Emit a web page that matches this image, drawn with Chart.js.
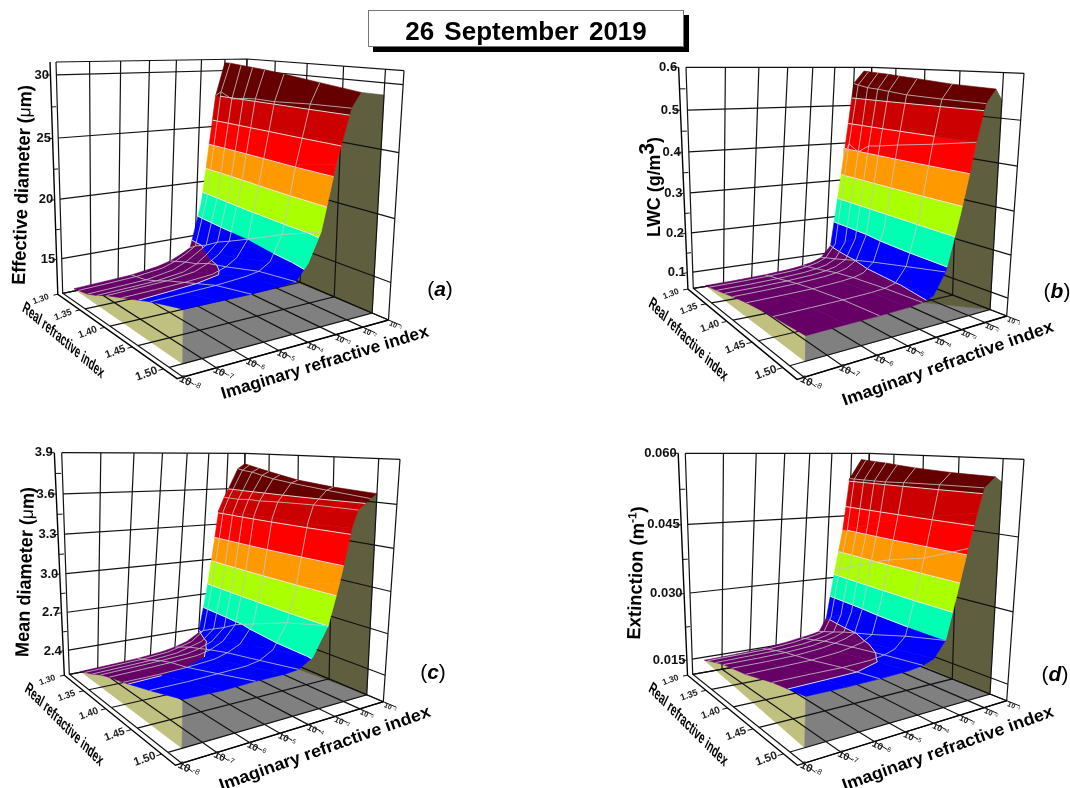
<!DOCTYPE html>
<html>
<head>
<meta charset="utf-8">
<title>26 September 2019</title>
<script src="https://cdn.jsdelivr.net/npm/chart.js@4"></script>
<style>
body { margin: 0; background: #fff; }
canvas { position: absolute; left: 0; top: 0; }
#dateBox {
  position: absolute; left: 368px; top: 10px; width: 314px; height: 35px; z-index: 2;
  background: #fff; border: 1px solid #777; box-shadow: 5px 5px 0 #000;
  font: bold 26px "Liberation Sans", Arial, sans-serif; word-spacing: 3px;
  text-align: center; line-height: 41px; color: #000;
}
</style>
</head>
<body>
<div id="dateBox">26 September 2019</div>
<canvas id="myChart" width="1070" height="788"></canvas>
<script>
// real refractive index of each mesh column, same for all panels
var realIdx = [1.30, 1.31, 1.33, 1.35, 1.37, 1.40, 1.45, 1.50];
var realTicks = [1.30, 1.35, 1.40, 1.45, 1.50];
var realTickLabels = ['1.30', '1.35', '1.40', '1.45', '1.50'];
var imagTicks = [-8, -7, -6, -5, -4, -3, -2, -1];

// log10 of imaginary index of each mesh row
var imagA = [-7.6, -6.5, -5.5, -4.5, -4, -3.6, -3.2, -2.8, -2.35, -2];
var imagB = [-7.6, -6.5, -5.5, -4.5, -4, -3.6, -3.2, -2.8, -2.35, -2, -1.45];
var imagC = [-7.6, -6.5, -5.5, -4.5, -4, -3.5, -3, -2.7, -2.35, -2.1, -1.4, -1];
var imagD = [-7.6, -6.5, -5.5, -4.5, -4, -3.6, -3.2, -2.9, -2.6, -2.3, -2.05, -1.45];

// surface heights, one row per imag value, one column per realIdx
var diamEff = [
  [12.2, 12.3, 12.5, 12.9, 13.4, 14.0, 15.0, 15.8],
  [12.3, 12.4, 12.6, 13.0, 13.5, 14.1, 15.1, 15.8],
  [12.4, 12.5, 12.7, 13.1, 13.6, 14.2, 15.2, 15.8],
  [12.7, 12.8, 13.1, 13.4, 13.9, 14.4, 15.4, 15.9],
  [13.0, 13.2, 13.6, 13.9, 14.4, 14.8, 15.6, 16.0],
  [13.4, 13.7, 14.2, 14.6, 15.0, 15.4, 16.2, 17.2],
  [13.9, 14.3, 14.8, 15.5, 16.0, 16.8, 18.2, 19.4],
  [18.0, 18.5, 19.2, 20.0, 20.8, 22.0, 23.6, 24.3],
  [27.8, 28.2, 27.7, 27.9, 28.0, 28.0, 28.2, 28.3],
  [30.7, 30.7, 30.6, 30.5, 30.4, 30.2, 29.8, 29.4]
];
var lwc = [
  [.060, .063, .069, .076, .083, .092, .103, .110],
  [.062, .065, .071, .078, .085, .094, .105, .112],
  [.065, .068, .074, .081, .088, .096, .107, .113],
  [.070, .073, .079, .086, .093, .101, .110, .115],
  [.075, .078, .084, .091, .098, .105, .113, .118],
  [.080, .084, .090, .098, .105, .112, .120, .127],
  [.090, .095, .103, .112, .122, .135, .155, .175],
  [.120, .130, .145, .165, .185, .215, .260, .300],
  [.370, .400, .385, .405, .410, .420, .435, .453],
  [.558, .555, .550, .548, .545, .540, .537, .535],
  [.590, .589, .587, .585, .582, .578, .570, .565]
];
var diamMean = [
  [2.21, 2.225, 2.26, 2.30, 2.33, 2.365, 2.435, 2.51],
  [2.22, 2.235, 2.27, 2.31, 2.34, 2.37, 2.44, 2.51],
  [2.23, 2.245, 2.28, 2.32, 2.35, 2.38, 2.45, 2.52],
  [2.25, 2.265, 2.30, 2.335, 2.365, 2.40, 2.46, 2.52],
  [2.27, 2.29, 2.33, 2.36, 2.39, 2.43, 2.48, 2.53],
  [2.30, 2.32, 2.36, 2.40, 2.44, 2.48, 2.54, 2.59],
  [2.36, 2.40, 2.45, 2.50, 2.56, 2.62, 2.72, 2.79],
  [2.79, 2.81, 2.84, 2.87, 2.90, 2.94, 3.00, 3.07],
  [3.42, 3.42, 3.42, 3.43, 3.43, 3.43, 3.43, 3.44],
  [3.53, 3.53, 3.53, 3.54, 3.54, 3.55, 3.56, 3.56],
  [3.77, 3.76, 3.75, 3.73, 3.71, 3.69, 3.66, 3.63],
  [3.81, 3.80, 3.78, 3.76, 3.74, 3.71, 3.68, 3.66]
];
var extinction = [
  [.0143, .0148, .0156, .0164, .0169, .0176, .0195, .0207],
  [.0145, .0150, .0158, .0165, .0170, .0178, .0196, .0207],
  [.0148, .0152, .0160, .0167, .0172, .0180, .0196, .0208],
  [.0155, .0158, .0165, .0172, .0178, .0186, .0199, .0210],
  [.0160, .0163, .0170, .0178, .0184, .0192, .0204, .0214],
  [.0163, .0167, .0175, .0183, .0190, .0198, .0212, .0222],
  [.0168, .0173, .0182, .0192, .0200, .0212, .0235, .0254],
  [.0201, .0208, .0222, .0238, .0255, .0280, .0315, .0345],
  [.0320, .0325, .0335, .0348, .0360, .0375, .0395, .0430],
  [.0418, .0422, .0430, .0440, .0450, .0462, .0480, .0497],
  [.0540, .0540, .0540, .0540, .0540, .0542, .0544, .0545],
  [.0585, .0584, .0582, .0580, .0577, .0573, .0568, .0565]
];

// contour levels between the colour bands
var levelsA = [14.6, 16.8, 19, 21.2, 23.4, 25.6, 27.8];
var levelsB = [.121, .186, .251, .316, .386, .453, .52];
var levelsC = [2.38, 2.584, 2.788, 2.99, 3.19, 3.40, 3.60];
var levelsD = [.0201, .0254, .0308, .0364, .0418, .0473, .0534];

var bandColors = ['#660066', '#0000ff', '#00ffb3', '#aaff00', '#ff9900', '#ff0000', '#cc0000', '#660000'];

var ticksA = [15, 20, 25, 30], tickLabelsA = ['15', '20', '25', '30'];
var ticksB = [.1, .2, .3, .4, .5, .6], tickLabelsB = ['0.1', '0.2', '0.3', '0.4', '0.5', '0.6'];
var ticksC = [2.4, 2.7, 3.0, 3.3, 3.6, 3.9], tickLabelsC = ['2.4', '2.7', '3.0', '3.3', '3.6', '3.9'];
var ticksD = [.015, .03, .045, .06], tickLabelsD = ['0.015', '0.030', '0.045', '0.060'];

var BOLD = '"Liberation Sans", Arial, sans-serif';

// box corners on the page: o = r min/k min, c = r min/k max, b = r max/k max, a = r max/k min; t = top
var panels = [
  { imag: imagA, z: diamEff, levels: levelsA, zMin: 12, zMax: 31, wallEnd: 29.1, ticks: ticksA, tickLabels: tickLabelsA, meshRows: [2, 4, 6, 8],
    o: [62.7, 293.3], c: [241, 257], b: [388.5, 320], a: [183, 377],
    to: [56, 62], tc: [247, 59], tb: [404, 70.7], ta: [186, 80],
    yTitle: [{ t: 'Effective diameter (' }, { t: 'μ', font: '18px ' + BOLD }, { t: 'm)' }], yTitlePos: [23, 185, 200, -88],
    realTitlePos: [63.3, 340.7, 105, 40.5], imagTitlePos: [325, 363, 216, -17],
    letter: 'a', letterPos: [440, 290] },
  { imag: imagB, z: lwc, levels: levelsB, zMin: .058, zMax: .6, wallEnd: .54, ticks: ticksB, tickLabels: tickLabelsB, meshRows: [2, 4, 6, 8, 9],
    o: [693.3, 288.3], c: [866.7, 261.7], b: [1006.7, 316], a: [804, 377.3],
    to: [686, 67.3], tc: [871.7, 67.3], tb: [1024, 73.3], ta: [807, 82],
    yTitle: [{ t: 'LWC (g/m' }, { t: '3', dy: -7, font: 'bold 22px ' + BOLD }, { t: ')' }], yTitlePos: [655, 187, 100, -90],
    realTitlePos: [688, 340, 108, 45], imagTitlePos: [948, 364, 223, -19.6],
    letter: 'b', letterPos: [1057, 292] },
  { imag: imagC, z: diamMean, levels: levelsC, zMin: 2.205, zMax: 3.9, wallEnd: 3.66, ticks: ticksC, tickLabels: tickLabelsC, meshRows: [2, 4, 6, 9, 10],
    o: [69.3, 674.3], c: [240.7, 641.7], b: [383.3, 701.7], a: [181.7, 763.3],
    to: [61.7, 452.7], tc: [245, 453.3], tb: [400, 459.3], ta: [183, 467.3],
    yTitle: [{ t: 'Mean diameter (' }, { t: 'μ', font: '18px ' + BOLD }, { t: 'm)' }], yTitlePos: [26, 572, 170, -88],
    realTitlePos: [64, 725, 107, 45], imagTitlePos: [325, 749, 223, -19.6],
    letter: 'c', letterPos: [433, 673] },
  { imag: imagD, z: extinction, levels: levelsD, zMin: .0115, zMax: .06, wallEnd: .0554, ticks: ticksD, tickLabels: tickLabelsD, meshRows: [2, 4, 6, 8, 10],
    o: [692.7, 674.3], c: [865, 644], b: [1006.7, 700.7], a: [804, 763.3],
    to: [685.3, 453.3], tc: [869.3, 453.3], tb: [1024, 459.3], ta: [807, 467],
    yTitle: [{ t: 'Extinction (m' }, { t: '-1', dy: -6, font: 'bold 12px ' + BOLD }, { t: ')' }], yTitlePos: [637, 573, 133, -88],
    realTitlePos: [688, 725, 108, 45], imagTitlePos: [948, 749, 223, -19.6],
    letter: 'd', letterPos: [1055, 675] }
];

function quadMap(p00, p10, p11, p01) {
  var dx1 = p10[0] - p11[0], dx2 = p01[0] - p11[0], sx = p00[0] - p10[0] + p11[0] - p01[0];
  var dy1 = p10[1] - p11[1], dy2 = p01[1] - p11[1], sy = p00[1] - p10[1] + p11[1] - p01[1];
  var det = dx1 * dy2 - dx2 * dy1;
  var g = (sx * dy2 - dx2 * sy) / det, h = (dx1 * sy - sx * dy1) / det;
  var a = p10[0] - p00[0] + g * p10[0], b = p01[0] - p00[0] + h * p01[0];
  var d = p10[1] - p00[1] + g * p10[1], e = p01[1] - p00[1] + h * p01[1];
  return function (u, v) {
    var w = g * u + h * v + 1;
    return { x: (a * u + b * v + p00[0]) / w, y: (d * u + e * v + p00[1]) / w };
  };
}

function makeProjector(p) {
  var floor = quadMap(p.o, p.c, p.b, p.a), top = quadMap(p.to, p.tc, p.tb, p.ta);
  return function (r, k, z) {
    var u = (k + 8) / 7, v = (r - 1.30) / 0.22;
    var w = (z - p.zMin) / (p.zMax - p.zMin);
    w = w / (1 + 0.06 * (1 - w));
    var f = floor(u, v), t = top(u, v);
    return { x: f.x + (t.x - f.x) * w, y: f.y + (t.y - f.y) * w };
  };
}

var datasets = [];
var labels = [];

function addPoly(pts, color) {
  datasets.push({ data: pts.concat([pts[0]]), polyColor: color, borderColor: color, borderWidth: 0.6 });
}
function addLine(pts, color, width) {
  datasets.push({ data: pts, borderColor: color, borderWidth: width });
}

// cut a polygon of {r,k,z} nodes at height lv, keep = +1 above, -1 below
function clipZ(poly, lv, keep) {
  var out = [];
  for (var i = 0; i < poly.length; i++) {
    var p = poly[i], q = poly[(i + 1) % poly.length];
    var dp = (p.z - lv) * keep, dq = (q.z - lv) * keep;
    if (dp >= 0) out.push(p);
    if ((dp > 0 && dq < 0) || (dp < 0 && dq > 0)) {
      var t = (lv - p.z) / (q.z - p.z);
      out.push({ r: p.r + (q.r - p.r) * t, k: p.k + (q.k - p.k) * t, z: lv });
    }
  }
  return out;
}

panels.forEach(function (p) {
  var proj = makeProjector(p);
  var rows = p.imag.length, cols = realIdx.length;
  var lastCol = cols - 1, zb = p.zMin;
  var i, j;
  function node(i, j) { return proj(realIdx[j], p.imag[i], p.z[i][j]); }

  // side walls of the surface
  var khaki = [proj(realIdx[0], p.imag[0], p.z[0][0])];
  for (j = 1; j < cols; j++) khaki.push(node(0, j));
  khaki.push(proj(realIdx[lastCol], p.imag[0], zb));
  addPoly(khaki, '#c0c080');

  var grey = [];
  for (i = 0; i <= 4; i++) grey.push(node(i, lastCol));
  grey.push(proj(realIdx[lastCol], -1, zb));
  grey.push(proj(realIdx[lastCol], p.imag[0], zb));
  addPoly(grey, '#808080');

  var olive = [];
  for (i = 4; i < rows; i++) olive.push(node(i, lastCol));
  olive.push(proj(realIdx[lastCol], -1, p.wallEnd));
  olive.push(proj(realIdx[lastCol], -1, zb));
  addPoly(olive, '#5f5f3f');

  // walls and floor grid
  var gridColor = '#111';
  var zLines = [p.zMin].concat(p.ticks);
  if (p.ticks[p.ticks.length - 1] < p.zMax) zLines.push(p.zMax);
  zLines.forEach(function (z) {
    addLine([proj(1.30, -8, z), proj(1.30, -1, z), proj(1.52, -1, z)], gridColor, 1.2);
  });
  imagTicks.forEach(function (k) {
    addLine([proj(1.30, k, p.zMax), proj(1.30, k, zb), proj(1.52, k, zb)], gridColor, 1.2);
  });
  realTicks.concat([1.52]).forEach(function (r) {
    addLine([proj(r, -8, zb), proj(r, -1, zb), proj(r, -1, p.zMax)], gridColor, 1.2);
  });

  // outer axes, set off a little from the box
  var off = -8.17;
  addLine([proj(1.30, off, p.zMax), proj(1.30, off, zb), proj(1.52, off, zb), proj(1.52, -1, zb)], '#000', 1.4);
  p.ticks.forEach(function (z, n) {
    var at = proj(1.30, off, z);
    addLine([at, proj(1.30, -8.32, z)], '#111', 1);
    if (n > 0) {
      var mid = (z + p.ticks[n - 1]) / 2;
      addLine([proj(1.30, off, mid), proj(1.30, -8.03, mid)], '#111', 1);
    }
    labels.push({ parts: [{ t: p.tickLabels[n] }], x: at.x - 1.5, y: at.y, rot: 0, font: 'bold 13px ' + BOLD, align: 'right', color: '#111' });
  });
  realTicks.forEach(function (r, n) {
    var at = proj(r, off, zb);
    addLine([at, proj(r, -8.32, zb)], '#111', 1);
    var size = 8.5 + 3 * n / 4;
    labels.push({ parts: [{ t: realTickLabels[n] }], x: at.x - 17, y: at.y + 5, rot: -20, font: 'bold ' + size + 'px ' + BOLD, align: 'center', color: '#222' });
  });
  imagTicks.forEach(function (k, n) {
    var at = proj(1.52, k, zb);
    addLine([at, proj(1.535, k, zb)], '#111', 1);
    var size = 11 - 4 * n / 7;
    labels.push({ parts: [{ t: '10 ' }, { t: String(k), dy: -1, font: (size - 3) + 'px ' + BOLD }], x: at.x + 7, y: at.y + 6, rot: 25, font: 'bold ' + size + 'px ' + BOLD, align: 'center', color: '#222' });
  });

  // surface cells, far ones first, cut into colour bands
  var ls = p.levels;
  for (i = rows - 2; i >= 0; i--) {
    for (j = 0; j < cols - 1; j++) {
      var quad = [
        { r: realIdx[j], k: p.imag[i], z: p.z[i][j] },
        { r: realIdx[j + 1], k: p.imag[i], z: p.z[i][j + 1] },
        { r: realIdx[j + 1], k: p.imag[i + 1], z: p.z[i + 1][j + 1] },
        { r: realIdx[j], k: p.imag[i + 1], z: p.z[i + 1][j] }
      ];
      for (var b = 0; b <= ls.length; b++) {
        var poly = quad;
        if (b > 0) poly = clipZ(poly, ls[b - 1], 1);
        if (b < ls.length && poly.length) poly = clipZ(poly, ls[b], -1);
        if (poly.length > 2) {
          addPoly(poly.map(function (n) { return proj(n.r, n.k, n.z); }), bandColors[b]);
        }
      }
    }
  }

  // white contour lines
  for (i = 0; i < rows - 1; i++) {
    for (j = 0; j < cols - 1; j++) {
      var corners = [
        { r: realIdx[j], k: p.imag[i], z: p.z[i][j] },
        { r: realIdx[j + 1], k: p.imag[i], z: p.z[i][j + 1] },
        { r: realIdx[j + 1], k: p.imag[i + 1], z: p.z[i + 1][j + 1] },
        { r: realIdx[j], k: p.imag[i + 1], z: p.z[i + 1][j] }
      ];
      ls.forEach(function (lv) {
        var cross = [];
        for (var e = 0; e < 4; e++) {
          var s = corners[e], q = corners[(e + 1) % 4];
          if ((s.z - lv) * (q.z - lv) < 0) {
            var t = (lv - s.z) / (q.z - s.z);
            cross.push(proj(s.r + (q.r - s.r) * t, s.k + (q.k - s.k) * t, lv));
          }
        }
        if (cross.length >= 2) addLine(cross.slice(0, 2), '#eeeeee', 0.9);
      });
    }
  }

  // mesh lines
  var meshColor = '#c4c4c4';
  for (j = 1; j < cols - 1; j++) {
    var lineR = [];
    for (i = 0; i < rows; i++) lineR.push(node(i, j));
    addLine(lineR, meshColor, 0.8);
  }
  p.meshRows.forEach(function (row) {
    var lineK = [];
    for (j = 0; j < cols; j++) lineK.push(node(row, j));
    addLine(lineK, meshColor, 0.8);
  });

  // axis titles and panel letter
  labels.push({ parts: p.yTitle, x: p.yTitlePos[0], y: p.yTitlePos[1], width: p.yTitlePos[2], rot: p.yTitlePos[3], font: 'bold 19px ' + BOLD, align: 'center', color: '#000' });
  labels.push({ parts: [{ t: 'Real refractive index' }], x: p.realTitlePos[0], y: p.realTitlePos[1], width: p.realTitlePos[2], rot: p.realTitlePos[3], shear: 0.35, font: 'bold 15px ' + BOLD, align: 'center', color: '#000' });
  labels.push({ parts: [{ t: 'Imaginary refractive index' }], x: p.imagTitlePos[0], y: p.imagTitlePos[1], width: p.imagTitlePos[2], rot: p.imagTitlePos[3], font: 'bold 17px ' + BOLD, align: 'center', color: '#000' });
  labels.push({ parts: [{ t: '(', font: '21px ' + BOLD }, { t: p.letter, font: 'italic bold 21px ' + BOLD }, { t: ')', font: '21px ' + BOLD }], x: p.letterPos[0], y: p.letterPos[1], rot: 0, font: '21px ' + BOLD, align: 'center', color: '#000' });
});

// paint order = push order
datasets.forEach(function (d, n) {
  d.order = -n;
  d.showLine = true;
  d.pointRadius = 0;
  d.tension = 0;
  d.fill = false;
});

var polygonFill = {
  id: 'polygonFill',
  beforeDatasetDraw: function (chart, args) {
    var ds = chart.data.datasets[args.index];
    if (!ds.polyColor) return;
    var ctx = chart.ctx, pts = args.meta.data;
    ctx.save();
    ctx.beginPath();
    pts.forEach(function (pt, n) {
      if (n === 0) ctx.moveTo(pt.x, pt.y); else ctx.lineTo(pt.x, pt.y);
    });
    ctx.closePath();
    ctx.fillStyle = ds.polyColor;
    ctx.fill();
    ctx.restore();
  }
};

var textLabels = {
  id: 'textLabels',
  afterDraw: function (chart) {
    var ctx = chart.ctx;
    labels.forEach(function (l) {
      ctx.save();
      ctx.textBaseline = 'middle';
      ctx.textAlign = 'left';
      ctx.fillStyle = l.color;
      var total = 0;
      l.parts.forEach(function (part) {
        ctx.font = part.font || l.font;
        total += ctx.measureText(part.t).width;
      });
      var sx = l.width ? l.width / total : 1;
      ctx.translate(l.x, l.y);
      ctx.rotate(l.rot * Math.PI / 180);
      if (l.shear) ctx.transform(1, 0, l.shear, 1, 0, 0);
      ctx.scale(sx, 1);
      var x = l.align === 'right' ? -total : (l.align === 'center' ? -total / 2 : 0);
      l.parts.forEach(function (part) {
        ctx.font = part.font || l.font;
        ctx.fillText(part.t, x, part.dy || 0);
        x += ctx.measureText(part.t).width;
      });
      ctx.restore();
    });
  }
};

var ctx = document.getElementById('myChart').getContext('2d');
var chart = new Chart(ctx, {
  type: 'scatter',
  data: { datasets: datasets },
  options: {
    responsive: false,
    animation: false,
    events: [],
    layout: { padding: 0 },
    plugins: { legend: { display: false }, tooltip: { enabled: false } },
    scales: {
      x: { type: 'linear', min: 0, max: 1070, display: false },
      y: { type: 'linear', min: 0, max: 788, reverse: true, display: false }
    }
  },
  plugins: [polygonFill, textLabels]
});
</script>
</body>
</html>
